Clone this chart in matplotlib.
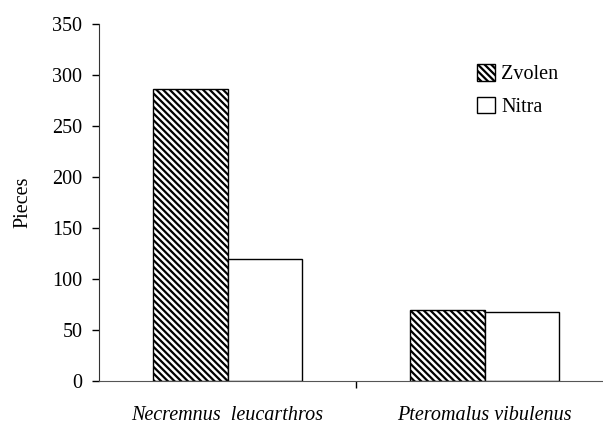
import matplotlib.pyplot as plt
import numpy as np

species = ["Necremnus  leucarthros", "Pteromalus vibulenus"]
zvolen = [286, 70]
nitra = [120, 68]

plt.rcParams['font.family'] = ['Liberation Serif', 'DejaVu Serif']
plt.rcParams['hatch.linewidth'] = 1.6

fig = plt.figure(figsize=(6.03, 4.26), dpi=100)
ax = fig.add_axes([99/603, 45/426, 514/603, 357/426])

x = np.arange(len(species))
w = 0.288
ax.bar(x - w/2, zvolen, w, label="Zvolen", color='white', edgecolor='black',
       hatch='\\\\\\\\\\', linewidth=1)
ax.bar(x + w/2, nitra, w, label="Nitra", color='white', edgecolor='black', linewidth=1)

ax.set_xlim(-0.5, 1.5)
ax.set_ylim(0, 350)
ax.set_yticks(range(0, 351, 50))
ax.set_xticks(x)
ax.set_xticklabels(species, style='italic', fontsize=14.5)
ax.tick_params(axis='x', length=0, pad=18)
ax.set_xticks([0.5], minor=True)
ax.tick_params(axis='x', which='minor', length=5, direction='out', width=1)
ax.tick_params(axis='y', labelsize=14.5, length=5, width=1, direction='out', pad=7)
ax.set_ylabel("Pieces", fontsize=14.5, labelpad=14)

for s in ['top', 'right']:
    ax.spines[s].set_visible(False)
ax.spines['left'].set_color('#333333')
ax.spines['bottom'].set_color('#555555')

ax.legend(loc='upper left', bbox_to_anchor=(0.72, 0.91), frameon=False, fontsize=14.5,
          handlelength=0.9, handleheight=0.9, handletextpad=0.3, labelspacing=0.6,
          borderaxespad=0)

plt.savefig("out.png", dpi=100)
